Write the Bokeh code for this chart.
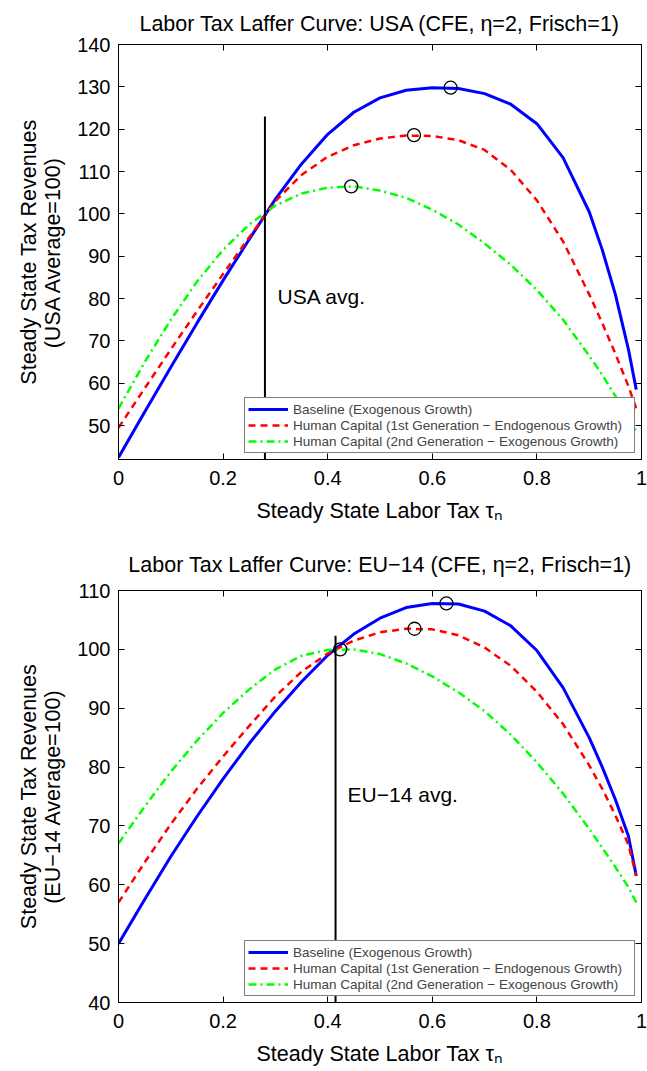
from bokeh.plotting import figure
from bokeh.models import FixedTicker, LinearAxis, Legend, LegendItem, Label, Range1d
from bokeh.layouts import column
from bokeh.embed import file_html
from bokeh.resources import INLINE

FONT = "Liberation Sans"

# ---------------- data ----------------
tau_grid = [0.0, 0.05, 0.1, 0.15, 0.2, 0.25, 0.3, 0.35, 0.4, 0.45, 0.5,
            0.55, 0.6, 0.65, 0.7, 0.75, 0.8, 0.85, 0.9, 0.925, 0.95, 0.975, 0.99]

usa_baseline = [42.5, 53.2, 63.8, 74.2, 84.3, 94.0, 103.5, 111.8, 118.8, 124.0, 127.4,
                129.2, 129.8, 129.6, 128.4, 125.9, 121.3, 113.3, 100.5, 91.5, 81.0, 68.0, 58.5]
usa_hc_1st = [49.5, 58.8, 68.0, 77.0, 85.8, 94.5, 103.0, 109.2, 113.5, 116.2, 117.8,
              118.5, 118.4, 117.4, 115.1, 110.4, 103.2, 93.5, 81.0, 74.2, 67.0, 59.3, 54.0]
usa_hc_2nd = [54.0, 65.0, 75.0, 84.0, 91.5, 97.5, 102.0, 104.8, 106.2, 106.5, 105.5,
              103.8, 101.0, 97.5, 93.0, 88.0, 82.0, 75.0, 66.5, 62.0, 57.0, 51.8, 48.5]
usa_peak_x = [0.635, 0.565, 0.445]
usa_peak_y = [129.8, 118.6, 106.5]
usa_avg_tau = [0.28]
usa_avg_top = [123.0]

eu_baseline = [50.0, 57.5, 64.8, 71.6, 78.0, 84.0, 89.5, 94.5, 99.0, 102.6, 105.3,
               107.1, 107.8, 107.7, 106.5, 104.0, 99.8, 93.5, 85.0, 80.0, 74.5, 68.3, 61.5]
eu_hc_1st = [57.0, 63.8, 70.3, 76.3, 81.8, 87.0, 92.0, 96.2, 99.3, 101.5, 102.9,
             103.5, 103.4, 102.4, 100.3, 97.2, 92.8, 87.3, 80.3, 76.3, 71.8, 66.8, 61.5]
eu_hc_2nd = [67.0, 73.3, 79.2, 84.5, 89.2, 93.2, 96.6, 98.9, 99.9, 100.0, 99.2,
             97.6, 95.4, 92.7, 89.5, 85.5, 80.8, 75.5, 69.5, 66.3, 63.0, 59.6, 57.0]
eu_peak_x = [0.627, 0.566, 0.424]
eu_peak_y = [107.8, 103.5, 100.0]
eu_avg_tau = [0.415]
eu_avg_top = [102.3]

x_ticks = [0, 0.2, 0.4, 0.6, 0.8, 1]
x_tick_labels = ["0", "0.2", "0.4", "0.6", "0.8", "1"]
usa_y_ticks = [50, 60, 70, 80, 90, 100, 110, 120, 130, 140]
eu_y_ticks = [40, 50, 60, 70, 80, 90, 100, 110]

legend_labels = ["Baseline (Exogenous Growth)",
                 "Human Capital (1st Generation \u2212 Endogenous Growth)",
                 "Human Capital (2nd Generation \u2212 Exogenous Growth)"]


def make_panel(title, ylabel, yrange, yticks, base, hc1, hc2, avg_tau, avg_top,
               avg_text, avg_pos, peak_x, peak_y, height, top_b, bottom_b, title_gap):
    p = figure(width=647, height=height, x_range=Range1d(0, 1),
               y_range=Range1d(*yrange), output_backend="svg",
               toolbar_location=None, min_border_left=118, min_border_right=6,
               min_border_top=top_b, min_border_bottom=bottom_b)
    p.grid.visible = False
    p.outline_line_color = "black"
    p.outline_line_width = 1
    p.outline_line_alpha = 1

    p.title.text = title
    p.title.text_font = FONT
    p.title.text_font_size = "21.5px"
    p.title.text_font_style = "normal"
    p.title.text_color = "black"
    p.title.align = "center"
    p.title.standoff = title_gap

    xa = p.xaxis[0]
    xa.ticker = FixedTicker(ticks=x_ticks)
    xa.major_label_overrides = {t: l for t, l in zip(x_ticks, x_tick_labels)}
    xa.axis_label = "Steady State Labor Tax \u03c4\u2099"
    ya = p.yaxis[0]
    ya.ticker = FixedTicker(ticks=yticks)
    ya.axis_label = ylabel
    for ax in (xa, ya):
        ax.major_label_text_font = FONT
        ax.major_label_text_font_size = "20px"
        ax.axis_label_text_font = FONT
        ax.axis_label_text_font_size = "21.5px"
        ax.axis_label_text_font_style = "normal"
        ax.axis_label_text_line_height = 1.0
        ax.major_tick_in = 6
        ax.major_tick_out = 0
        ax.minor_tick_line_color = None
        ax.axis_line_color = "black"
        ax.major_tick_line_color = "black"
        ax.major_label_text_color = "black"
        ax.axis_label_text_color = "black"
    xa.major_label_standoff = 11
    xa.axis_label_standoff = 11
    ya.major_label_standoff = 8
    ya.axis_label_standoff = 9

    top_ax = LinearAxis(ticker=FixedTicker(ticks=x_ticks), major_label_text_font_size="0px",
                        major_label_text_color=None,
                        major_label_standoff=0, major_tick_in=6, major_tick_out=0,
                        minor_tick_line_color=None)
    right_ax = LinearAxis(ticker=FixedTicker(ticks=yticks), major_label_text_font_size="0px",
                          major_label_text_color=None,
                          major_label_standoff=0, major_tick_in=6, major_tick_out=0,
                          minor_tick_line_color=None)
    p.add_layout(top_ax, "above")
    p.add_layout(right_ax, "right")

    r1 = p.line(tau_grid, base, line_color="#0000FF", line_width=3)
    r2 = p.line(tau_grid, hc1, line_color="#FF0000", line_width=2.5, line_dash="7 5")
    r3 = p.line(tau_grid, hc2, line_color="#00FF00", line_width=2.5, line_dash="8 4 2 4")

    p.segment(x0=avg_tau, y0=[yrange[0]], x1=avg_tau, y1=avg_top,
              line_color="black", line_width=2)
    p.scatter(peak_x, peak_y, marker="circle", size=13, fill_color=None,
              line_color="black", line_width=1.3)

    p.add_layout(Label(x=avg_pos[0], y=avg_pos[1], text=avg_text, text_font=FONT,
                       text_font_size="21px", text_baseline="middle", text_color="black"))

    leg = Legend(items=[LegendItem(label=legend_labels[0], renderers=[r1]),
                        LegendItem(label=legend_labels[1], renderers=[r2]),
                        LegendItem(label=legend_labels[2], renderers=[r3])],
                 location="bottom_right", margin=6, padding=3, spacing=0,
                 glyph_width=40, glyph_height=16, label_height=16, label_standoff=5,
                 label_width=338,
                 label_text_font=FONT, label_text_font_size="13.5px",
                 border_line_color="black", border_line_width=1.5,
                 background_fill_alpha=1)
    p.add_layout(leg)
    return p


p1 = make_panel("Labor Tax Laffer Curve: USA (CFE, \u03b7=2, Frisch=1)",
                "Steady State Tax Revenues\n(USA Average=100)",
                (42, 140), usa_y_ticks, usa_baseline, usa_hc_1st, usa_hc_2nd,
                usa_avg_tau, usa_avg_top, "USA avg.", (0.304, 80.4),
                usa_peak_x, usa_peak_y, 534, 44, 75, 18)
p2 = make_panel("Labor Tax Laffer Curve: EU\u221214 (CFE, \u03b7=2, Frisch=1)",
                "Steady State Tax Revenues\n(EU\u221214 Average=100)",
                (40, 110), eu_y_ticks, eu_baseline, eu_hc_1st, eu_hc_2nd,
                eu_avg_tau, eu_avg_top, "EU\u221214 avg.", (0.438, 75.3),
                eu_peak_x, eu_peak_y, 534, 56, 62, 28)

layout = column(p1, p2, spacing=0)
open("out.html", "w").write(file_html(layout, INLINE))
